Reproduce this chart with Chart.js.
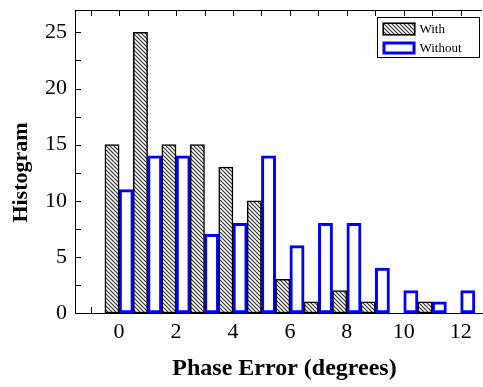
<!DOCTYPE html>
<html lang="en">
<head>
<meta charset="UTF-8">
<title>Phase Error Histogram</title>
<script src="https://cdn.jsdelivr.net/npm/chart.js"></script>
<style>
  body { margin: 0; background: #fdfdfd; }
  canvas { display: block; }
</style>
</head>
<body>
<canvas id="histChart" width="483" height="387"></canvas>
<script>
  // phase error bins (degrees) and counts
  const phaseBins = [0, 1, 2, 3, 4, 5, 6, 7, 8, 9, 10, 11, 12];
  const withCounts = [15, 25, 15, 15, 13, 10, 3, 1, 2, 1, 0, 1, 0];
  const withoutCounts = [11, 14, 14, 7, 8, 14, 6, 8, 8, 4, 2, 1, 2];
  const xTickLabels = [0, 2, 4, 6, 8, 10, 12];
  const yTickLabels = [0, 5, 10, 15, 20, 25];

  const serif = '"Liberation Serif", "Times New Roman", serif';

  // diagonal hatch fill
  function makeHatch() {
    const c = document.createElement('canvas');
    c.width = 4; c.height = 4;
    const g = c.getContext('2d');
    g.fillStyle = '#ffffff';
    g.fillRect(0, 0, 4, 4);
    g.strokeStyle = '#333';
    g.lineWidth = 1.2;
    g.beginPath();
    g.moveTo(-1, -1); g.lineTo(5, 5);
    g.moveTo(-1, 3); g.lineTo(1, 5);
    g.moveTo(3, -1); g.lineTo(5, 1);
    g.stroke();
    return g.createPattern(c, 'repeat');
  }
  const hatch = makeHatch();

  // inward ticks, top frame line and boxed legend
  const framePlugin = {
    id: 'frame',
    beforeDatasetsDraw(chart) {
      const ctx = chart.ctx;
      const a = chart.chartArea;
      const xs = chart.scales.x, ys = chart.scales.y;
      ctx.save();
      ctx.strokeStyle = '#000';
      ctx.lineWidth = 1;
      ctx.beginPath();
      ctx.moveTo(a.left, a.top + 0.5);
      ctx.lineTo(a.right, a.top + 0.5);
      for (let v = -1; v <= 12; v++) {
        const px = Math.round(xs.getPixelForValue(v)) + 0.5;
        ctx.moveTo(px, a.top); ctx.lineTo(px, a.top + 6);
        ctx.moveTo(px, a.bottom); ctx.lineTo(px, a.bottom - 6);
      }
      for (let v = 0; v <= 25; v += 2.5) {
        const py = Math.round(ys.getPixelForValue(v)) + 0.5;
        ctx.moveTo(a.left, py); ctx.lineTo(a.left + 6, py);
      }
      ctx.stroke();
      ctx.restore();
    },
    afterDraw(chart) {
      const ctx = chart.ctx;
      const sets = chart.data.datasets;
      const bx = 377.5, by = 17.5, bw = 102, bh = 40;
      ctx.save();
      ctx.fillStyle = '#fff';
      ctx.fillRect(bx, by, bw, bh);
      ctx.strokeStyle = '#000';
      ctx.lineWidth = 1;
      ctx.strokeRect(bx, by, bw, bh);
      ctx.font = '13px ' + serif;
      ctx.textBaseline = 'middle';
      sets.forEach((ds, i) => {
        const sy = by + 5 + i * 19;
        ctx.fillStyle = ds.backgroundColor;
        ctx.fillRect(bx + 5, sy, 33, 13);
        ctx.strokeStyle = ds.borderColor;
        ctx.lineWidth = ds.borderWidth;
        const h = ds.borderWidth / 2;
        ctx.strokeRect(bx + 5 + h, sy + h, 33 - 2 * h, 13 - 2 * h);
        ctx.fillStyle = '#000';
        ctx.fillText(ds.label, bx + 42, sy + 7);
      });
      ctx.restore();
    }
  };

  new Chart(document.getElementById('histChart'), {
    type: 'bar',
    data: {
      datasets: [
        {
          label: 'With',
          data: phaseBins.map((b, i) => ({ x: b, y: withCounts[i] })),
          backgroundColor: hatch,
          borderColor: '#000',
          borderWidth: 1.5,
          borderSkipped: false
        },
        {
          label: 'Without',
          data: phaseBins.map((b, i) => ({ x: b, y: withoutCounts[i] })),
          backgroundColor: '#fff',
          borderColor: '#0000ff',
          borderWidth: 3,
          borderSkipped: false
        }
      ]
    },
    options: {
      responsive: false,
      animation: false,
      categoryPercentage: 1,
      barPercentage: 1,
      layout: { padding: { top: 10, right: 1, left: 0, bottom: 0 } },
      plugins: {
        legend: { display: false },
        tooltip: { enabled: false }
      },
      scales: {
        x: {
          type: 'linear',
          min: -1.55,
          max: 12.75,
          offset: false,
          afterFit(s) { s.height = 74; s.paddingLeft = 0; s.paddingRight = 0; },
          afterBuildTicks(s) { s.ticks = xTickLabels.map(v => ({ value: v })); },
          grid: { display: false, drawTicks: false },
          border: { display: true, color: '#000', width: 1 },
          ticks: { color: '#000', padding: 6, maxRotation: 0, font: { family: serif, size: 22 } },
          title: {
            display: true,
            text: '  Phase Error (degrees)',
            color: '#000',
            padding: { top: 0, bottom: 4 },
            font: { family: serif, size: 24, weight: 'bold' }
          }
        },
        y: {
          min: 0,
          max: 27,
          afterFit(s) { s.width = 75; s.paddingTop = 0; s.paddingBottom = 0; },
          afterBuildTicks(s) { s.ticks = yTickLabels.map(v => ({ value: v })); },
          grid: { display: false, drawTicks: false },
          border: { display: true, color: '#000', width: 1 },
          ticks: { color: '#000', padding: 8, font: { family: serif, size: 22 } },
          title: {
            display: true,
            text: 'Histogram    ',
            color: '#000',
            padding: { top: 8, bottom: 0 },
            font: { family: serif, size: 22, weight: 'bold' }
          }
        }
      }
    },
    plugins: [framePlugin]
  });
</script>
</body>
</html>
